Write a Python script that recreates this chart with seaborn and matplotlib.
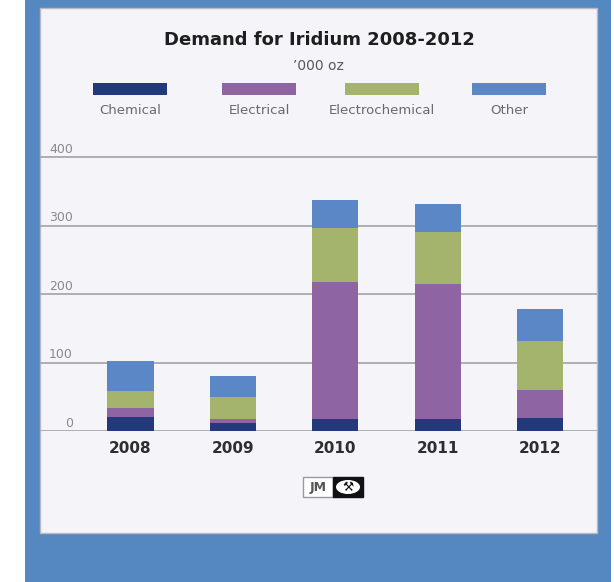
import matplotlib
matplotlib.use("Agg")
import matplotlib.pyplot as plt
import matplotlib.transforms as mtransforms
from matplotlib.patches import Rectangle, Ellipse
import pandas as pd
import seaborn as sns

# Iridium demand by application, thousand ounces
years = ["2008", "2009", "2010", "2011", "2012"]
chemical = [20, 11, 17, 18, 19]
electrical = [13, 6, 201, 196, 41]
electrochemical = [26, 33, 79, 77, 71]
other = [43, 30, 40, 41, 47]

segments = ["Chemical", "Electrical", "Electrochemical", "Other"]
seg_colors = ["#223a7c", "#8f64a3", "#a4b46c", "#5c87c7"]
yticks = [0, 100, 200, 300, 400]
title = "Demand for Iridium 2008-2012"
subtitle = "\u2019000 oz"

W, H = 614, 582


def fx(px):
    return px / W


def fy(py):
    return 1 - py / H


sns.set_theme(style="white")
plt.rcParams["font.family"] = ["DejaVu Sans"]

fig = plt.figure(figsize=(W / 100, H / 100), dpi=100, facecolor="white")

# blue frame and light panel
fig.patches.append(Rectangle((fx(25), 0), fx(611) - fx(25), 1,
                             transform=fig.transFigure, facecolor="#5587c0",
                             edgecolor="none", zorder=0))
fig.patches.append(Rectangle((fx(40), fy(533)), fx(597) - fx(40), fy(8) - fy(533),
                             transform=fig.transFigure, facecolor="#f4f4f9",
                             edgecolor="#b9b9c4", linewidth=1.0, zorder=1))

# plotting area: y = 0 at px 431, 400 at px 157
ymax = 400 * (431 - 150) / (431 - 157)
ax = fig.add_axes([fx(40), fy(431), fx(597) - fx(40), fy(150) - fy(431)])
ax.set_zorder(5)
ax.patch.set_alpha(0)

df = pd.DataFrame({"Year": years, "Chemical": chemical, "Electrical": electrical,
                   "Electrochemical": electrochemical, "Other": other})
stack = df[segments].cumsum(axis=1)

# draw cumulative totals from the top segment down so each layer shows its part
for seg, col in reversed(list(zip(segments, seg_colors))):
    sns.barplot(x=df["Year"], y=stack[seg], color=col, width=0.45,
                saturation=1, errorbar=None, linewidth=0, ax=ax, zorder=3)

ax.set_xlim(-0.884, 4.556)
ax.set_ylim(0, ymax)
ax.set_xlabel("")
ax.set_ylabel("")
for s in ax.spines.values():
    s.set_visible(False)

ax.set_yticks(yticks)
ax.set_yticklabels([])
ax.tick_params(axis="y", length=0)
ax.yaxis.grid(True, color="#a8a8ae", linewidth=1.3)
ax.xaxis.grid(False)
ax.set_axisbelow(True)

ax.tick_params(axis="x", length=0, pad=7)
for lab in ax.get_xticklabels():
    lab.set_fontweight("bold")
    lab.set_fontsize(11)
    lab.set_color("#2e2e2e")

# value labels sit just above each gridline, at the left
trans = mtransforms.offset_copy(ax.get_yaxis_transform(), fig=fig, x=0, y=3, units="points")
for v in yticks:
    ax.text((73 - 40) / (597 - 40), v, str(v), transform=trans, ha="right",
            va="baseline", fontsize=9, color="#8a8a8e")

# titles
fig.text(fx(319), fy(40), title, ha="center", va="center", fontsize=13,
         fontweight="bold", color="#1e1e1e", zorder=6)
fig.text(fx(318), fy(66), subtitle, ha="center", va="center", fontsize=10,
         color="#5a5a5a", zorder=6)

# legend: swatches above labels
swatch_left = [93, 222, 345, 472]
for seg, col, x0 in zip(segments, seg_colors, swatch_left):
    fig.patches.append(Rectangle((fx(x0), fy(95)), fx(74), 12 / H,
                                 transform=fig.transFigure, facecolor=col,
                                 edgecolor="none", zorder=2))
    fig.text(fx(x0 + 37), fy(110), seg, ha="center", va="center",
             fontsize=9.5, color="#6a6a6a", zorder=6)

# JM badge
fig.patches.append(Rectangle((fx(303), fy(497)), fx(30), 20 / H,
                             transform=fig.transFigure, facecolor="white",
                             edgecolor="#9a9a9a", linewidth=1, zorder=2))
fig.text(fx(318), fy(487.5), "JM", ha="center", va="center", fontsize=9,
         fontweight="bold", color="#555555", zorder=6)
fig.patches.append(Rectangle((fx(333), fy(497)), fx(30), 20 / H,
                             transform=fig.transFigure, facecolor="#111111",
                             edgecolor="#111111", linewidth=1, zorder=2))
fig.patches.append(Ellipse((fx(348), fy(487)), fx(24), 14 / H,
                           transform=fig.transFigure, facecolor="white",
                           edgecolor="none", zorder=3))
fig.text(fx(348), fy(487.5), "\u2692", ha="center", va="center", fontsize=9,
         color="#111111", zorder=6)

fig.savefig("out.png", dpi=100, facecolor="white")
